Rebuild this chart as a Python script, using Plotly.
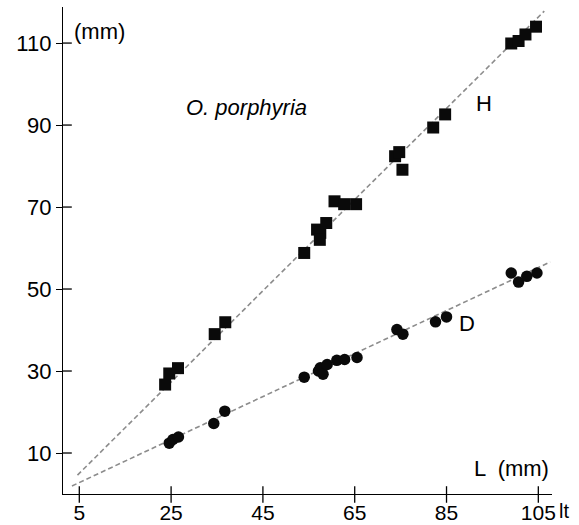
import numpy as np
import plotly.graph_objects as go

# Shell length L (mm) against height H and diameter D, Oliva porphyria
L_H = [23.7, 24.6, 26.5, 34.5, 36.8, 54.0, 56.8, 57.5, 57.4, 58.8, 60.6, 62.7, 65.3,
       73.8, 74.7, 75.4, 82.1, 84.7, 99.1, 100.7, 102.2, 104.5]
H = [26.7, 29.4, 30.7, 39.0, 41.9, 58.8, 64.5, 63.7, 62.0, 66.1, 71.4, 70.7, 70.7,
     82.4, 83.4, 79.1, 89.4, 92.6, 109.9, 110.5, 112.1, 114.0]

L_D = [24.6, 25.4, 26.6, 34.3, 36.7, 54.0, 57.1, 57.5, 58.1, 59.0, 61.1, 62.8, 65.5,
       74.2, 75.5, 82.6, 85.0, 99.1, 100.7, 102.5, 104.7]
D = [12.4, 13.3, 13.9, 17.2, 20.2, 28.5, 30.0, 30.8, 29.2, 31.6, 32.6, 32.8, 33.3,
     40.1, 39.0, 42.0, 43.2, 53.9, 51.7, 53.1, 53.9]

# Linear fits (slope, intercept) and the L span each fitted line covers
fit_H = (1.113, -0.52)
fit_D = (0.5245, 0.167)
span_H = [4.6, 106.3]
span_D = [3.4, 107.6]

x_ticks = [5, 25, 45, 65, 85, 105]
y_ticks = [10, 30, 50, 70, 90, 110]

FONT = "Liberation Sans, Arial, sans-serif"
x_range = [1.45, 107.98]
y_range = [0.0, 118.8]

fig = go.Figure()

for (m, b), span in ((fit_H, span_H), (fit_D, span_D)):
    xs = np.array(span)
    fig.add_trace(go.Scatter(
        x=xs, y=m * xs + b, mode="lines",
        line=dict(color="#8c8c8c", width=1.6, dash="5px,3px"),
        hoverinfo="skip", showlegend=False))

fig.add_trace(go.Scatter(
    x=L_H, y=H, mode="markers", name="H",
    marker=dict(symbol="square", size=12, color="#0a0a0a"),
    showlegend=False))
fig.add_trace(go.Scatter(
    x=L_D, y=D, mode="markers", name="D",
    marker=dict(symbol="circle", size=11.5, color="#0a0a0a"),
    showlegend=False))

# Crossing tick marks: full x ticks, inner halves of the y ticks
shapes = []
for t in x_ticks:
    shapes.append(dict(type="line", xref="x", yref="paper", x0=t, x1=t, y0=-0.018, y1=0.016,
                       line=dict(color="black", width=1.3)))
for t in y_ticks:
    shapes.append(dict(type="line", xref="paper", yref="y", x0=0, x1=0.018, y0=t, y1=t,
                       line=dict(color="black", width=1.3)))

annotations = [
    dict(x=3.47, y=112.9, text="(mm)", xanchor="left", font=dict(size=22)),
    dict(x=41.4, y=94.3, text="<i>O. porphyria</i>", font=dict(size=22)),
    dict(x=93.2, y=95.3, text="H", font=dict(size=22)),
    dict(x=89.5, y=41.6, text="D", font=dict(size=22)),
    dict(x=90.6, y=6.3, text="L  (mm)", xanchor="left", font=dict(size=22)),
]
for a in annotations:
    a.update(xref="x", yref="y", showarrow=False)
    a["font"].update(family=FONT, color="black")

# Axis unit tag past the last x tick
annotations.append(dict(x=1.039, y=-0.062, xref="paper", yref="paper", text="lt",
                        showarrow=False, font=dict(family=FONT, size=20, color="black")))

axis_common = dict(showgrid=False, zeroline=False, showline=True, linecolor="black",
                   linewidth=1.3, tickcolor="black", tickwidth=1.3, automargin=False)

fig.update_layout(
    width=579, height=525,
    margin=dict(l=63, r=27, t=7, b=31),
    paper_bgcolor="white", plot_bgcolor="white",
    xaxis=dict(range=x_range, tickvals=x_ticks, ticks="",
               tickfont=dict(family=FONT, size=21, color="black"), **axis_common),
    yaxis=dict(range=y_range, tickvals=y_ticks, ticks="outside", ticklen=6,
               tickfont=dict(family=FONT, size=22, color="black"), **axis_common),
    shapes=shapes, annotations=annotations,
)

fig.write_html("out.html")
